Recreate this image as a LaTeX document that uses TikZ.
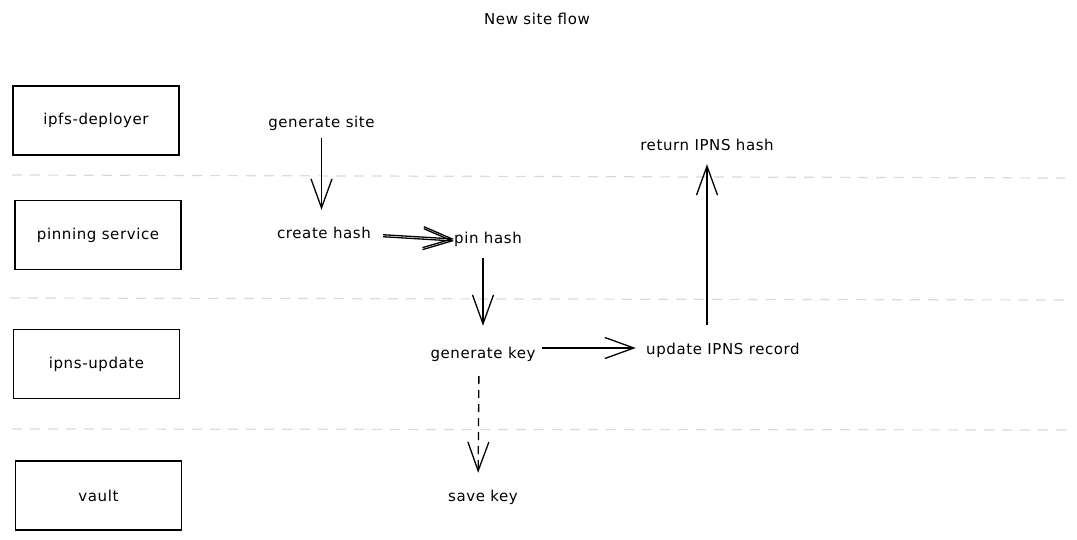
\documentclass[tikz,border=0pt]{standalone}
\usepackage{fontspec}
\setmainfont{DejaVu Sans}[LetterSpace=4]
\usetikzlibrary{arrows.meta}
\begin{document}
\begin{tikzpicture}[x=1pt,y=-1pt,
  lbl/.style={font=\fontsize{15}{17}\selectfont, inner sep=0pt, minimum height=16pt, text height=10pt, text depth=3pt},
  lane/.style={draw, line width=1.5pt, minimum width=166pt, minimum height=69pt, inner sep=0pt, font=\fontsize{15}{17}\selectfont},
  sep/.style={draw=black!14, line width=1.2pt, dash pattern=on 10pt off 8pt},
  arr/.style={draw, line width=1.3pt, -{Straight Barb[length=29pt,width=21pt]}},
]
\useasboundingbox[fill=white] (0,0) rectangle (1077,539);

% title
\node[lbl] (title) at (537,21) {New site flow};

% lanes
\node[lane] (deployer) at (96,120.5) {ipfs-deployer};
\node[lane] (pinning) at (98,235) {pinning service};
\node[lane] (ipnsupd) at (96.5,364) {ipns-update};
\node[lane] (vault) at (98.5,495.5) {vault};

% separators
\draw[sep] (12,175) -- (1065,178);
\draw[sep] (10,298) -- (1065,300);
\draw[sep] (12,429) -- (1068,430);

% steps
\node[lbl, minimum width=107pt] (gensite) at (321.5,124) {generate site};
\node[lbl, minimum width=94pt] (createhash) at (324,235) {create hash};
\node[lbl, minimum width=64pt] (pinhash) at (488,240) {pin hash};
\node[lbl, minimum width=100pt] (genkey) at (483,355) {generate key};
\node[lbl, minimum width=158pt] (update) at (723,351) {update IPNS record};
\node[lbl, minimum width=138pt] (return) at (707,147) {return IPNS hash};
\node[lbl, minimum width=68pt] (savekey) at (483,498) {save key};

% connectors
\draw[arr, shorten <=6pt, shorten >=17pt] (gensite.south) -- (gensite.south |- createhash.north);
\draw[arr, shorten <=12pt, transform canvas={yshift=1pt}] (createhash.east) -- (pinhash.west);
\draw[arr, shorten <=12pt, transform canvas={yshift=-1pt}] (createhash.east) -- (pinhash.west);
\draw[arr, shorten <=10pt, shorten >=21pt] (genkey |- pinhash.south) -- (genkey.north);
\draw[arr, shorten <=6pt, shorten >=8pt, transform canvas={yshift=3pt}] (genkey.east |- update.west) -- (update.west);
\draw[arr, shorten <=18pt, shorten >=9pt] (return |- update.north) -- (return.south);
\draw[arr, dash pattern=on 8pt off 6pt, shorten <=13pt, shorten >=17pt] ([xshift=-4pt]genkey.south) -- ([xshift=-5pt]savekey.north);
\end{tikzpicture}
\end{document}
